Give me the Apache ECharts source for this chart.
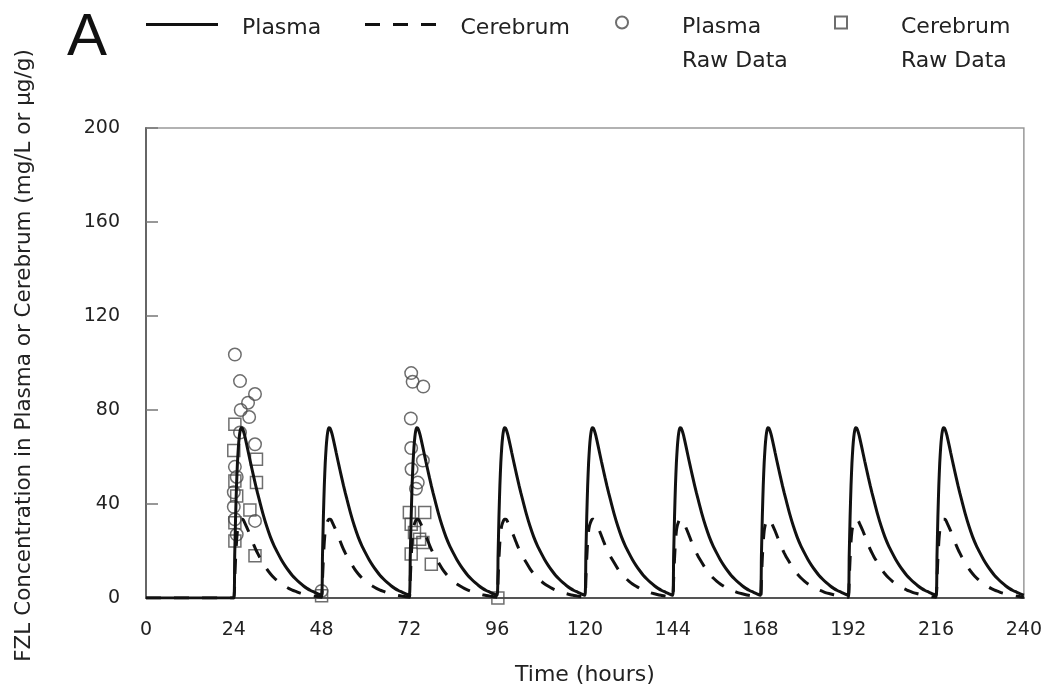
<!DOCTYPE html>
<html><head><meta charset="utf-8">
<script src="https://cdn.jsdelivr.net/npm/echarts@6/dist/echarts.min.js"></script>
<style>html,body{margin:0;padding:0;background:#fff}#c{width:1045px;height:691px}</style>
</head><body><div id="c"></div>
<script>
// ---- data ----
const doseTimes = [24, 48, 72, 96, 120, 144, 168, 192, 216];
const preDoseHours = [0, 24];
const preDosePlasma = [0, 0];
const preDoseCerebrum = [0, 0];
// hours after each dose
const cycleHours = [0.25, 0.5, 0.75, 1, 1.25, 1.5, 1.75, 2, 2.3, 2.6, 3, 3.5, 4, 4.5, 5, 5.5, 6, 6.5, 7, 8, 9, 10, 11, 12, 13, 14, 15, 16, 17, 18, 19, 20, 21, 22, 23, 24];
const plasmaCycle = [18, 35, 48, 57.5, 64, 68.5, 71.3, 72.5, 72.3, 71.2, 69, 65.5, 61.8, 58.2, 54.7, 51.2, 47.8, 44.6, 41.6, 35.7, 30.5, 26, 22.3, 19.2, 16.3, 13.8, 11.6, 9.6, 8, 6.5, 5.2, 4.1, 3.2, 2.5, 1.8, 1.2];
const cerebrumCycle = [8, 17, 24, 28.5, 30.8, 32, 33, 33.5, 33.5, 33.2, 32, 30.3, 28.5, 26.5, 24.5, 22.5, 20.7, 19.1, 17.6, 15, 12.4, 10.3, 8.6, 7.2, 6, 5, 4.1, 3.4, 2.8, 2.2, 1.8, 1.4, 1.1, 0.8, 0.5, 0.3];

const plasmaRawHours = [24.3, 25.7, 29.8, 27.9, 25.9, 28.2, 25.7, 29.8, 24.3, 24.8, 24, 24, 29.8, 24.3, 24.8, 48, 72.5, 72.9, 75.8, 72.4, 72.5, 75.7, 72.6, 74.3, 73.8];
const plasmaRawValues = [103.6, 92.3, 86.8, 83.1, 80, 77, 70.4, 65.4, 55.8, 51.5, 45, 38.8, 32.8, 33.5, 27, 3, 95.7, 92, 90, 76.4, 63.8, 58.5, 54.8, 49.1, 46.5];
const cerebrumRawHours = [24.3, 24, 30.2, 24.3, 30.2, 24.8, 28.4, 24.3, 24.3, 29.8, 48, 72, 76.2, 72.5, 73.4, 74.8, 75.7, 72.5, 78, 96.2];
const cerebrumRawValues = [73.9, 62.8, 59, 49.8, 49.1, 43.4, 37.5, 32, 24.3, 18, 1, 36.4, 36.4, 31.4, 27.9, 25, 23.6, 18.7, 14.4, 0];

const xMin = 0, xMax = 240, xStep = 24;
const yMin = 0, yMax = 200, yStep = 40;

// ---- build series data ----
function buildCurve(preH, preV, cyc) {
  const out = preH.map((h, i) => [h, preV[i]]);
  doseTimes.forEach(d => cycleHours.forEach((h, i) => out.push([d + h, cyc[i]])));
  return out;
}
const plasmaLine = buildCurve(preDoseHours, preDosePlasma, plasmaCycle);
const cerebrumLine = buildCurve(preDoseHours, preDoseCerebrum, cerebrumCycle);
const plasmaPts = plasmaRawHours.map((h, i) => [h, plasmaRawValues[i]]);
const cerebrumPts = cerebrumRawHours.map((h, i) => [h, cerebrumRawValues[i]]);

const FONT = 'DejaVu Sans';
const chart = echarts.init(document.getElementById('c'), null, {renderer: 'canvas'});

function legendBox(name, left, top, w, h, padL, spacer, icon) {
  const o = {
    data: [name], left: left, top: top, padding: 0, itemGap: 0,
    itemWidth: w, itemHeight: h, selectedMode: false,
    formatter: n => '{e| }\n' + n.split(' Raw').map((s, i) => '{t|' + (i ? 'Raw' + s : s) + '}').join('\n'),
    textStyle: {padding: [0, 0, 0, padL], rich: {
      e: {fontSize: 2, lineHeight: spacer},
      t: {fontFamily: FONT, fontSize: 22, color: '#222', lineHeight: spacer > 20 ? 34 : 21}
    }}
  };
  if (icon) o.icon = icon;
  return o;
}

chart.setOption({
  animation: false,
  backgroundColor: '#fff',
  grid: {left: 146, right: 20, top: 128, bottom: 92, show: true, borderColor: '#999', borderWidth: 1.5},
  graphic: [{type: 'text', left: 67, top: 8, style: {text: 'A', fontFamily: 'Liberation Sans', fontSize: 60, fill: '#111'}}],
  legend: [
    legendBox('Plasma', 146, 13, 72, 3, 19, 7, 'rect'),
    legendBox('Cerebrum', 365, 13, 72, 3, 19, 7, 'path://M0,0h15v3h-15zM28,0h15v3h-15zM56,0h15v3h-15z'),
    legendBox('Plasma Raw Data', 615, -12.5, 12, 12, 49, 43),
    legendBox('Cerebrum Raw Data', 834, -12.5, 12, 12, 49, 43)
  ],
  xAxis: {
    type: 'value', min: xMin, max: xMax, interval: xStep,
    name: 'Time (hours)', nameLocation: 'middle', nameGap: 66,
    nameTextStyle: {fontFamily: FONT, fontSize: 22, color: '#222'},
    axisLine: {lineStyle: {color: '#555', width: 2}},
    axisTick: {show: false},
    splitLine: {show: false},
    axisLabel: {fontFamily: FONT, fontSize: 19, color: '#222', margin: 23}
  },
  yAxis: {
    type: 'value', min: yMin, max: yMax, interval: yStep,
    name: 'FZL Concentration in Plasma or Cerebrum (mg/L or µg/g)', nameLocation: 'middle', nameGap: 111,
    nameTextStyle: {fontFamily: FONT, fontSize: 21.5, color: '#222', padding: [0, 0, 0, 15]},
    axisLine: {lineStyle: {color: '#666', width: 2}},
    axisTick: {inside: true, length: 12, lineStyle: {color: '#777', width: 1.5}},
    splitLine: {show: false},
    axisLabel: {fontFamily: FONT, fontSize: 19, color: '#222', margin: 26}
  },
  series: [
    {name: 'Plasma Raw Data', type: 'scatter', data: plasmaPts, symbol: 'circle', symbolSize: 12.5, z: 1,
     itemStyle: {color: 'rgba(255,255,255,0)', borderColor: '#4a4a4a', borderWidth: 1.5}},
    {name: 'Cerebrum Raw Data', type: 'scatter', data: cerebrumPts, symbol: 'rect', symbolSize: 12, z: 1,
     itemStyle: {color: 'rgba(255,255,255,0)', borderColor: '#4a4a4a', borderWidth: 1.5}},
    {name: 'Plasma', type: 'line', data: plasmaLine, showSymbol: false, symbol: 'none', smooth: 0.2, z: 3,
     lineStyle: {color: '#111', width: 3}, itemStyle: {color: '#111'}},
    {name: 'Cerebrum', type: 'line', data: cerebrumLine, showSymbol: false, symbol: 'none', smooth: 0.2, z: 3,
     lineStyle: {color: '#111', width: 3, type: [15, 13]}, itemStyle: {color: '#111'}}
  ]
});
</script></body></html>
